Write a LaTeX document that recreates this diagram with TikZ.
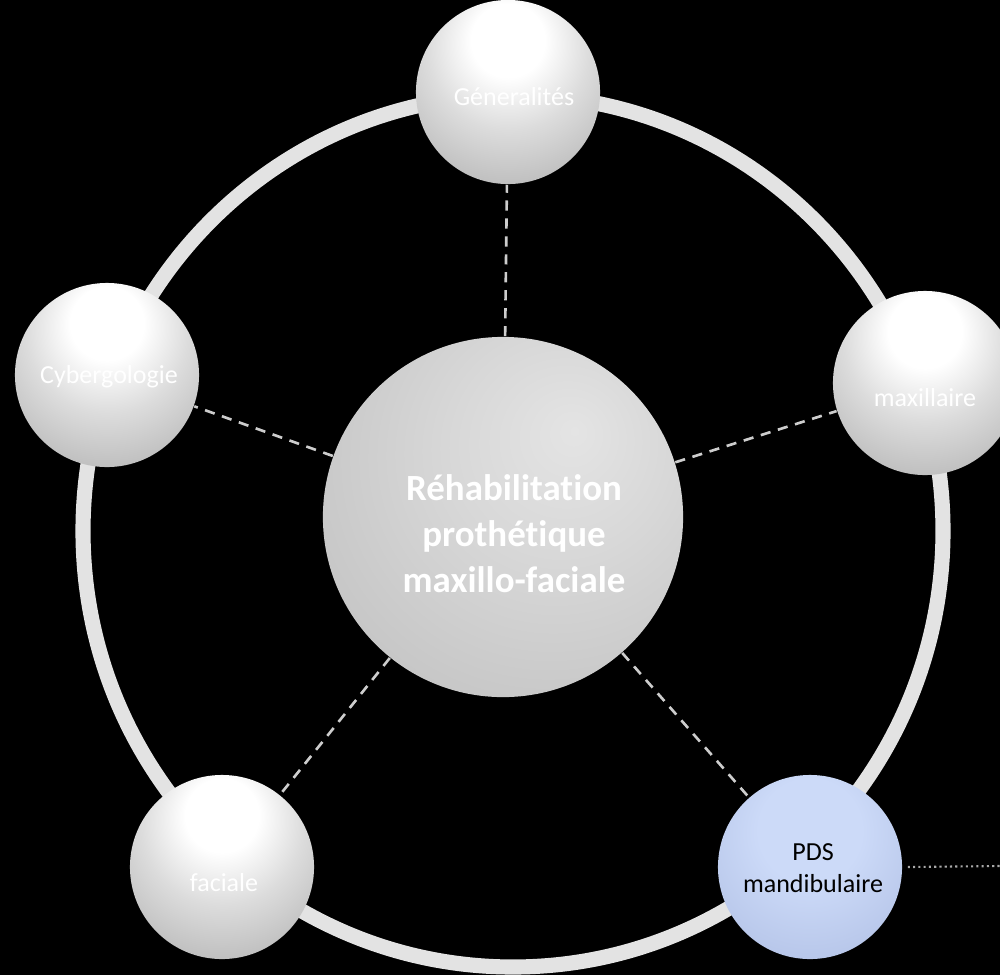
\documentclass[tikz,border=0pt]{standalone}
\usepackage{fontspec}
\setmainfont{Carlito}[Ligatures=CommonOff]
\definecolor{sw0}{HTML}{FFFFFF}
\definecolor{sw1}{HTML}{DCDCDC}
\definecolor{sw2}{HTML}{C0C0C0}
\definecolor{sw3}{HTML}{ACACAC}
\definecolor{sw4}{HTML}{8A8A8A}
\definecolor{sw5}{HTML}{5A5A5A}
\definecolor{sc0}{HTML}{E4E4E4}
\definecolor{sc1}{HTML}{D8D8D8}
\definecolor{sc2}{HTML}{C6C6C6}
\definecolor{sc3}{HTML}{AAAAAA}
\definecolor{sc4}{HTML}{7C7C7C}
\definecolor{sb0}{HTML}{CCDAF8}
\definecolor{sb1}{HTML}{B8C7EA}
\definecolor{sb2}{HTML}{A6B3D2}
\definecolor{sb3}{HTML}{8E9AB6}
\definecolor{sb4}{HTML}{5A6174}
\definecolor{ringcol}{HTML}{E3E3E3}
\definecolor{dashcol}{HTML}{CDCDCD}
\definecolor{dotcol}{HTML}{A8A8A8}
\pgfdeclareradialshading{whiteball}{\pgfpoint{0bp}{16bp}}{color(0bp)=(sw0); color(10bp)=(sw0); color(22bp)=(sw1); color(34bp)=(sw2); color(48bp)=(sw3); color(58bp)=(sw4); color(66bp)=(sw5); color(80bp)=(sw5)}
\pgfdeclareradialshading{centerball}{\pgfpoint{10bp}{12bp}}{color(0bp)=(sc0); color(15bp)=(sc1); color(35bp)=(sc2); color(52bp)=(sc3); color(62bp)=(sc4); color(80bp)=(sc4)}
\pgfdeclareradialshading{blueball}{\pgfpoint{0bp}{12bp}}{color(0bp)=(sb0); color(14bp)=(sb0); color(32bp)=(sb1); color(48bp)=(sb2); color(56bp)=(sb3); color(64bp)=(sb4); color(80bp)=(sb4)}
\tikzset{
  sphere/.style={circle, inner sep=0pt, minimum size=1.84cm, shading=whiteball},
  bigsphere/.style={circle, inner sep=0pt, minimum size=3.60cm, shading=centerball},
  bluesphere/.style={circle, inner sep=0pt, minimum size=1.84cm, shading=blueball},
  lbl/.style={text=white, font=\fontsize{7.4pt}{8.9pt}\selectfont, align=center},
  dlbl/.style={text=black, font=\fontsize{7.4pt}{8.9pt}\selectfont, align=center},
  conn/.style={draw=dashcol, line width=0.75pt, dash pattern=on 2.9pt off 2.2pt},
  dotconn/.style={draw=dotcol, line width=0.6pt, dash pattern=on 0.6pt off 0.9pt},
  ring/.style={draw=ringcol, line width=4.3pt}
}
\begin{document}
\begin{tikzpicture}[x=0.01cm, y=-0.01cm]
\useasboundingbox (0,0) rectangle (1000,975);
\fill[black] (0,0) rectangle (1000,975);
\clip (0,0) rectangle (1000,975);
% ring
\draw[ring] (513,531) ellipse [x radius=430, y radius=436];
% spheres
\node[bigsphere] (c) at (503,517) {};
\node[text=white, font=\bfseries\fontsize{10.5pt}{13.1pt}\selectfont, align=center] (ct) at (514,534) {Réhabilitation\\prothétique\\maxillo-faciale};
\node[sphere, label={[lbl, xshift=0.06cm, yshift=-0.05cm]center:Géneralités}] (g) at (508,92) {};
\node[sphere, label={[lbl, xshift=0.02cm, yshift=-0.02cm]center:Cybergologie}] (cy) at (107,375) {};
\node[sphere, label={[lbl, yshift=-0.15cm]center:maxillaire}] (mx) at (925,383) {};
\node[sphere, label={[lbl, xshift=0.02cm, yshift=-0.16cm]center:faciale}] (fa) at (222,867) {};
\node[bluesphere, label={[dlbl, xshift=0.03cm, yshift=-0.01cm]center:PDS\\mandibulaire}] (pds) at (810,867) {};
\coordinate (dotend) at (1000,866);
% connectors
\draw[conn] (c) -- (g);
\draw[conn] (c) -- (cy);
\draw[conn] (c) -- (mx);
\draw[conn] (c) -- (fa);
\draw[conn] (c) -- (pds);
\draw[dotconn] (pds.east) ++(0.05cm,0) -- (dotend);
\end{tikzpicture}
\end{document}
